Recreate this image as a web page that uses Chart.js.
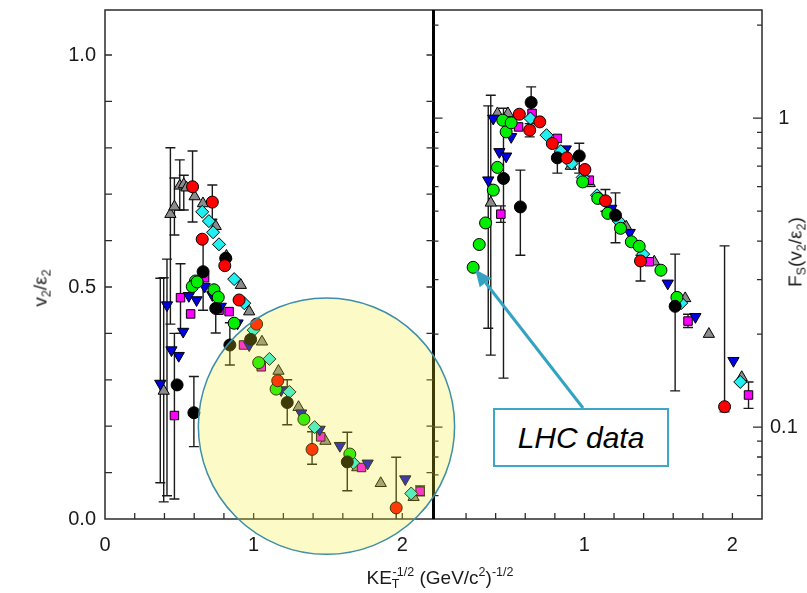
<!DOCTYPE html>
<html>
<head>
<meta charset="utf-8">
<script src="https://cdn.jsdelivr.net/npm/chart.js@4.4.1/dist/chart.umd.min.js"></script>
<style>
  html, body { margin: 0; padding: 0; background: #fff; }
  #wrap { position: relative; width: 807px; height: 593px; overflow: hidden;
          font-family: "Liberation Sans", Arial, sans-serif; color: #1a1a1a; }
  #c { position: absolute; left: 0; top: 0; }
  .t { position: absolute; white-space: nowrap; font-size: 19px; line-height: 1; }
  .rot { transform: translate(-50%, -50%) rotate(-90deg); }
  .t sub, .t sup { font-size: 0.66em; line-height: 0; }
  .t sub { vertical-align: -0.35em; }
  .t sup { vertical-align: 0.6em; }
  #xt { transform: translate(-50%, -50%); }
  #lhc { position: absolute; left: 493px; top: 408px; width: 176px; height: 59px; box-sizing: border-box;
         border: 2px solid #3fa7c6; background: #fff; font-style: italic; font-size: 30px;
         display: flex; align-items: center; justify-content: center; color: #000; }
</style>
</head>
<body>
<div id="wrap">
  <canvas id="c" width="807" height="593"></canvas>
  <div class="t rot" style="left:40px;top:288px;">v<sub>2</sub>/ε<sub>2</sub></div>
  <div class="t rot" style="left:795px;top:252px;">F<sub>S</sub>(v<sub>2</sub>/ε<sub>2</sub>)</div>
  <div class="t" id="xt" style="left:440px;top:577px;">KE<sub>T</sub><sup style="margin-left:-0.55em">-1/2</sup> (GeV/c<sup>2</sup>)<sup>-1/2</sup></div>
  <div id="lhc">LHC data</div>
</div>
<script>
// v2/eps2 versus KE_T^-1/2 (left panel, linear) and scaled F_S(v2/eps2) (right panel, log).
// Each point: [x, y] or [x, y, errLow, errHigh].

// ---- left panel ----
const redL = [[0.589,0.716,0.640,0.793],[0.722,0.683,0.646,0.720],[0.654,0.603],[0.806,0.546],[0.902,0.472],
  [1.02,0.420],[1.162,0.298],[1.393,0.150,0.118,0.188],[1.959,0.024,0,0.133]];
const blackL = [[0.660,0.533,0.450,0.603],[0.812,0.562],[0.745,0.454,0.401,0.487],[0.840,0.375,0.332,0.423],
  [0.485,0.289],[0.598,0.229,0.156,0.307],[0.980,0.387],[1.226,0.251,0.203,0.300],[1.630,0.123,0.061,0.187]];
const greenL = [[0.609,0.513],[0.587,0.501],[0.620,0.511],[0.733,0.494],[0.762,0.478],[0.869,0.422],
  [1.034,0.337],[1.151,0.280],[1.338,0.215],[1.647,0.140]];
const cyanL = [[0.654,0.662],[0.699,0.642],[0.727,0.618],[0.767,0.592],[0.869,0.517],[0.937,0.465],
  [1.000,0.407],[1.106,0.345],[1.241,0.274],[1.410,0.198],[1.670,0.121],[2.060,0.055]];
const blueL = [[0.372,0.292,0.078,0.519],[0.417,0.461,0.050,0.560],[0.447,0.364],[0.496,0.352],[0.526,0.404],
  [0.564,0.481],[0.616,0.472],[0.670,0.501],[0.722,0.483],[0.779,0.458],[0.892,0.422],[0.970,0.375],
  [1.185,0.278],[1.320,0.228],[1.444,0.193],[1.580,0.158],[1.767,0.120],[2.020,0.086]];
const magentaL = [[0.467,0.223,0.043,0.400],[0.508,0.477,0.400,0.550],[0.576,0.442],[0.670,0.520],[0.767,0.450],
  [0.835,0.447],[0.932,0.375],[1.051,0.328],[1.451,0.177],[1.726,0.111],[2.120,0.060,0.050,0.071]];
const grayL = [[0.395,0.276,0.037,0.520],[0.440,0.657,0.420,0.800],[0.467,0.673,0.612,0.735],[0.503,0.718,0.666,0.774],
  [0.530,0.721,0.666,0.741],[0.548,0.714],[0.603,0.695],[0.659,0.680],[0.745,0.631],[0.817,0.567],[0.914,0.504],
  [0.970,0.447],[1.056,0.382],[1.167,0.319],[1.302,0.241],[1.483,0.168],[1.697,0.111],[1.855,0.077],[2.076,0.047]];

// ---- right panel ----
const lhcR = [[0.248,0.329],[0.289,0.390],[0.332,0.458],[0.384,0.585],[0.412,0.693]];
const redR = [[0.560,1.030],[0.630,0.915,0.870,0.960],[0.698,0.973],[0.783,0.828],[0.881,0.744],[1.003,0.682],
  [1.142,0.540,0.500,0.588],[1.379,0.345,0.297,0.360],[1.947,0.1164,0.112,0.386]];
const blackR = [[0.453,0.638,0.144,1.077],[0.567,0.516,0.360,0.679],[0.640,1.124,1.000,1.263],[0.817,0.744,0.664,0.800],
  [0.965,0.755,0.664,0.830],[1.210,0.485,0.395,0.573],[1.613,0.246,0.131,0.363]];
const greenR = [[0.448,0.985],[0.471,0.903],[0.505,0.966],[0.988,0.622],[1.090,0.550],[1.158,0.492],[1.244,0.440],
  [1.317,0.398],[1.370,0.385],[1.517,0.322],[1.625,0.263]];
const cyanR = [[0.635,0.998],[0.744,0.881],[0.840,0.782],[0.913,0.713],[0.988,0.643],[1.085,0.563],[1.231,0.465],
  [1.397,0.363],[1.654,0.252],[2.053,0.140]];
const blueR = [[0.350,0.630,0.209,1.096],[0.384,0.998],[0.425,0.778],[0.471,0.753],[0.505,0.870],[0.874,0.794],
  [1.181,0.510],[1.306,0.426],[1.563,0.292],[1.750,0.2275],[2.007,0.164]];
const magentaR = [[0.435,0.489,0.460,0.520],[0.555,0.937],[0.646,1.036],[0.817,0.860],[1.033,0.630],[1.438,0.343],
  [1.700,0.2204,0.210,0.232],[2.109,0.127,0.115,0.140]];
const grayR = [[0.367,0.532,0.171,1.187],[0.412,1.036],[0.483,1.036],[0.908,0.700],[1.036,0.615],[1.283,0.445],
  [1.472,0.343],[1.681,0.261],[1.841,0.200],[2.063,0.145]];

// ---- axes ----
const xRangeL = [0, 2.21];
const xRangeR = [-0.02, 2.2];
const yRangeL = [0, 1.097];
const yRangeR = [0.0504, 2.24];
const xMinorTicks = [0.2,0.4,0.6,0.8,1.0,1.2,1.4,1.6,1.8,2.0,2.2];
const yLinTicks = [0.1,0.2,0.3,0.4,0.5,0.6,0.7,0.8,0.9,1.0];
const yLogTicks = [0.06,0.07,0.08,0.09,0.1,0.2,0.3,0.4,0.5,0.6,0.7,0.8,0.9,1,2];
const yLogMajor = [0.1, 1];
const highlightCenter = [1.49, 0.2];   // left-panel data coords
const highlightRadiusX = 0.862;         // in x units

const series = [
  { left: redL,     right: redR,     color: '#ff0000', shape: 'circle',  r: 6,   rot: 0 },
  { left: blackL,   right: blackR,   color: '#000000', shape: 'circle',  r: 6,   rot: 0 },
  { left: greenL,   right: greenR,   color: '#00ee00', shape: 'circle',  r: 6,   rot: 0 },
  { left: cyanL,    right: cyanR,    color: '#22f0f0', shape: 'rectRot', r: 6.5, rot: 0 },
  { left: blueL,    right: blueR,    color: '#0000e0', shape: 'triangle',r: 6.5, rot: 180 },
  { left: magentaL, right: magentaR, color: '#ff00ff', shape: 'rect',    r: 6,   rot: 0 },
  { left: grayL,    right: grayR,    color: '#8c8c8c', shape: 'triangle',r: 6.5, rot: 0 }
];

const toPts = arr => arr.map(p => ({ x: p[0], y: p[1], lo: p[2], hi: p[3] }));
const mk = (data, s, xa, ya) => ({
  data: toPts(data), xAxisID: xa, yAxisID: ya,
  pointStyle: s.shape, pointRadius: s.r, pointRotation: s.rot,
  backgroundColor: s.color, borderColor: '#000', borderWidth: 1, showLine: false
});

const datasets = [];
datasets.push(mk(lhcR, series[2], 'xR', 'yR'));
const LHC_INDEX = 0;
series.forEach(s => {
  datasets.push(mk(s.left, s, 'xL', 'yL'));
  datasets.push(mk(s.right, s, 'xR', 'yR'));
});

const overlay = {
  id: 'overlay',
  beforeDatasetsDraw(chart) {
    const ctx = chart.ctx;
    ctx.save();
    ctx.strokeStyle = '#1a1a1a';
    ctx.lineWidth = 1.4;
    chart.data.datasets.forEach(ds => {
      const xs = chart.scales[ds.xAxisID], ys = chart.scales[ds.yAxisID];
      ds.data.forEach(p => {
        if (p.lo === undefined) return;
        const px = xs.getPixelForValue(p.x);
        const lo = Math.min(ys.getPixelForValue(Math.max(p.lo, ys.min)), chart.chartArea.bottom);
        const hi = ys.getPixelForValue(p.hi);
        ctx.beginPath();
        ctx.moveTo(px, lo); ctx.lineTo(px, hi);
        ctx.moveTo(px - 5, hi); ctx.lineTo(px + 5, hi);
        if (p.lo > ys.min) { ctx.moveTo(px - 5, lo); ctx.lineTo(px + 5, lo); }
        ctx.stroke();
      });
    });
    ctx.restore();
  },
  afterDatasetsDraw(chart) {
    const ctx = chart.ctx;
    const { left, right, top, bottom } = chart.chartArea;
    const xL = chart.scales.xL, xR = chart.scales.xR, yL = chart.scales.yL, yR = chart.scales.yR;
    const mid = xL.right;
    ctx.save();
    // frame
    ctx.strokeStyle = '#2b2b2b';
    ctx.lineWidth = 1.5;
    ctx.strokeRect(left, top, right - left, bottom - top);
    ctx.lineWidth = 3;
    ctx.strokeStyle = '#000';
    ctx.beginPath(); ctx.moveTo(mid, top); ctx.lineTo(mid, bottom); ctx.stroke();
    // inward ticks
    ctx.lineWidth = 1.3;
    ctx.strokeStyle = '#2b2b2b';
    ctx.beginPath();
    xMinorTicks.forEach(v => {
      const a = xL.getPixelForValue(v);
      if (a < mid - 2) { ctx.moveTo(a, bottom); ctx.lineTo(a, bottom - 6); }
      const b = xR.getPixelForValue(v);
      if (b > mid + 2 && b < right - 2) { ctx.moveTo(b, bottom); ctx.lineTo(b, bottom - 6); }
    });
    yLinTicks.forEach(v => {
      const py = yL.getPixelForValue(v);
      ctx.moveTo(left, py); ctx.lineTo(left + 7, py);
      ctx.moveTo(mid, py); ctx.lineTo(mid - 7, py);
    });
    yLogTicks.forEach(v => {
      const py = yR.getPixelForValue(v);
      const len = yLogMajor.includes(v) ? 9 : 5;
      ctx.moveTo(mid, py); ctx.lineTo(mid + len, py);
      ctx.moveTo(right, py); ctx.lineTo(right - len, py);
    });
    ctx.stroke();

    // highlighted region
    const cx = xL.getPixelForValue(highlightCenter[0]);
    const cy = yL.getPixelForValue(highlightCenter[1]);
    const rad = xL.getPixelForValue(highlightCenter[0] + highlightRadiusX) - cx;
    ctx.beginPath();
    ctx.arc(cx, cy, rad, 0, Math.PI * 2);
    ctx.fillStyle = 'rgba(245,235,30,0.25)';
    ctx.fill();
    ctx.lineWidth = 1.5;
    ctx.strokeStyle = '#3d8ea6';
    ctx.stroke();

    // arrow from the label box to the first LHC point
    const pt = chart.getDatasetMeta(LHC_INDEX).data[0];
    const tip = { x: pt.x + 2, y: pt.y + 2 };
    const tail = { x: 583, y: 408 };
    const ang = Math.atan2(tip.y - tail.y, tip.x - tail.x);
    const hl = 17, hw = 7.5;
    const bx = tip.x - hl * Math.cos(ang), by = tip.y - hl * Math.sin(ang);
    ctx.strokeStyle = '#35a2c2';
    ctx.fillStyle = '#35a2c2';
    ctx.lineWidth = 3;
    ctx.beginPath(); ctx.moveTo(tail.x, tail.y); ctx.lineTo(bx, by); ctx.stroke();
    ctx.beginPath();
    ctx.moveTo(tip.x, tip.y);
    ctx.lineTo(bx + hw * Math.sin(ang), by - hw * Math.cos(ang));
    ctx.lineTo(bx - hw * Math.sin(ang), by + hw * Math.cos(ang));
    ctx.closePath(); ctx.fill();
    ctx.restore();
  }
};

const tickFont = { family: '"Liberation Sans", Arial, sans-serif', size: 20 };
const tickColor = '#1a1a1a';
const near = (a, b) => Math.abs(a - b) < 1e-9;
// fixed axis boxes, no extra label overhang padding
const fixBox = (w, h) => s => {
  if (w !== null) s.width = w;
  if (h !== null) s.height = h;
  s.paddingTop = 0; s.paddingBottom = 0; s.paddingLeft = 0; s.paddingRight = 0;
};

new Chart(document.getElementById('c'), {
  type: 'scatter',
  data: { datasets },
  options: {
    responsive: false,
    animation: false,
    events: [],
    layout: { padding: { top: 10, left: 0, right: 0, bottom: 0 } },
    plugins: { legend: { display: false }, tooltip: { enabled: false } },
    scales: {
      xL: {
        type: 'linear', axis: 'x', position: 'bottom', stack: 'xs', stackWeight: 1,
        min: xRangeL[0], max: xRangeL[1],
        grid: { display: false, drawTicks: false }, border: { display: false },
        ticks: { stepSize: 1, includeBounds: false, autoSkip: false, maxRotation: 0, padding: 14,
                 font: tickFont, color: tickColor,
                 callback: v => (near(v, Math.round(v)) ? String(Math.round(v)) : '') },
        afterFit: fixBox(null, 74)
      },
      xR: {
        type: 'linear', axis: 'x', position: 'bottom', stack: 'xs', stackWeight: 1,
        min: xRangeR[0], max: xRangeR[1],
        grid: { display: false, drawTicks: false }, border: { display: false },
        ticks: { stepSize: 1, includeBounds: false, autoSkip: false, maxRotation: 0, padding: 14,
                 font: tickFont, color: tickColor,
                 callback: v => (near(v, Math.round(v)) && Math.round(v) > 0 ? String(Math.round(v)) : '') },
        afterFit: fixBox(null, 74)
      },
      yL: {
        type: 'linear', axis: 'y', position: 'left',
        min: yRangeL[0], max: yRangeL[1],
        grid: { display: false, drawTicks: false }, border: { display: false },
        ticks: { stepSize: 0.5, includeBounds: false, autoSkip: false, padding: 9,
                 font: tickFont, color: tickColor,
                 callback: v => ([0, 0.5, 1].some(t => near(v, t)) ? v.toFixed(1) : '') },
        afterFit: fixBox(105, null)
      },
      yR: {
        type: 'logarithmic', axis: 'y', position: 'right',
        min: yRangeR[0], max: yRangeR[1],
        grid: { display: false, drawTicks: false }, border: { display: false },
        ticks: { autoSkip: false, padding: 8, crossAlign: 'center',
                 font: tickFont, color: tickColor,
                 callback: v => (near(v, 1) ? '1' : near(v, 0.1) ? '0.1' : '') },
        afterFit: fixBox(45, null)
      }
    }
  },
  plugins: [overlay]
});
</script>
</body>
</html>
